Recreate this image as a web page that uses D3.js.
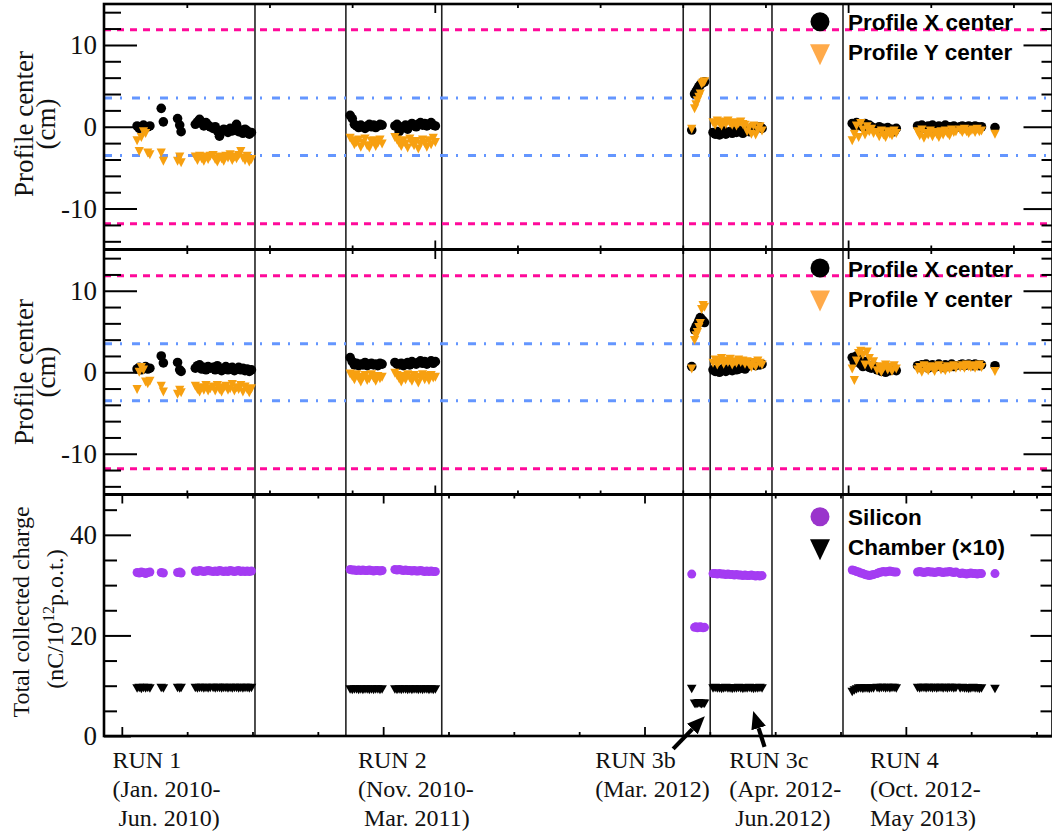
<!DOCTYPE html>
<html>
<head>
<meta charset="utf-8">
<script src="https://cdn.jsdelivr.net/npm/d3@7"></script>
<style>
	body { margin: 0; background: #fff; }
	svg { display: block; }
</style>
</head>
<body>
<svg id="chart"></svg>
<script>
// measurement dates, in days since 1 Jan 2010
const days = [
	// RUN 1
	10, 13, 16, 19, 22, 25, 28, 44, 47, 67, 70, 72, 92, 95, 98, 101, 104, 107, 110, 113,
	117, 120, 123, 126, 129, 132, 135, 138, 141, 144, 147, 150, 153, 156, 159, 162, 165, 168, 171,
	// RUN 2
	310, 313, 316, 319, 322, 325, 328, 331, 334, 337, 340, 343, 346, 349, 352, 355,
	373, 376, 379, 382, 385, 388, 391, 394, 397, 400, 403, 406, 409, 412, 415, 418, 421, 424, 427, 430,
	// RUN 3b
	791, 795, 797, 799, 801, 803, 805, 807, 809,
	// RUN 3c
	821, 824, 827, 830, 833, 836, 839, 842, 845, 848, 851, 854, 857, 860, 863, 866, 869, 872, 875, 878, 881, 884, 887, 890,
	// RUN 4
	1017, 1020, 1023, 1026, 1029, 1032, 1035, 1038, 1041, 1044, 1047,
	1052, 1055, 1058, 1061, 1064, 1067, 1070, 1073, 1076, 1079,
	1109, 1112, 1115, 1118, 1121, 1124, 1127, 1130, 1133, 1136, 1139, 1142, 1145, 1148, 1151, 1154, 1157, 1160, 1163,
	1169, 1172, 1175, 1178, 1181, 1184, 1187, 1190, 1193, 1196, 1199,
	1218,
];

// upper panel: profile centres (cm)
const topX = [
	0.1, -0.2, 0.0, 0.2, -0.1, 0.0, 0.1, 2.25, 0.6, 1.0, 0.2, -0.6, 0.3, 0.6, 0.9, 0.4, 0.1, 0.5, 0.2, 0.0,
	-0.2, 0.0, -0.5, -1.15, -0.6, -0.3, -0.4, -0.7, -0.2, -0.5, -0.3, 0.3, -0.6, -0.4, -0.8, -0.3, -0.5, -0.9, -0.7,
	1.4, 1.0, 0.3, 0.1, -0.1, 0.2, 0.0, -0.2, 0.1, 0.3, 0.0, 0.2, -0.1, 0.1, 0.3, 0.2,
	0.1, 0.3, -0.6, -0.2, 0.0, 0.2, -0.3, 0.1, 0.4, 0.2, 0.0, 0.3, 0.5, 0.2, 0.4, 0.1, 0.3, 0.5, 0.2, 0.1,
	-0.4, 4.0, 4.3, 4.6, 4.9, 5.1, 5.3, 5.4, 5.5,
	-0.7, -0.9, -0.6, -1.0, -0.8, -0.5, -0.9, -0.7, -0.6, -0.8, -0.5, -0.7, -0.4, -0.6, -0.8, -0.5, -0.3, -0.6, -0.2, 0.0, -0.3, -0.1, 0.0, -0.2,
	0.4, 0.1, 0.5, 0.2, 0.3, 0.0, 0.4, 0.1, 0.2, 0.0, -0.2,
	-0.3, 0.0, -0.5, -0.2, -0.4, -0.1, -0.5, -0.3, -0.6, -0.2,
	0.1, -0.2, 0.2, 0.0, -0.3, 0.1, -0.1, 0.2, -0.2, 0.0, 0.1, -0.3, 0.0, 0.2, -0.1, 0.0, -0.2, 0.1, -0.1,
	0.0, 0.1, -0.1, 0.0, 0.1, -0.1, 0.0, 0.1, 0.0, -0.1, 0.0,
	-0.1,
];
const topY = [
	-1.6, -2.9, -1.2, -0.5, -0.7, -3.1, -3.3, -3.1, -4.1, -4.1, -3.6, -4.3, -3.6, -4.0, -3.5, -3.8, -4.1, -3.6, -3.9, -3.5,
	-3.4, -3.9, -4.2, -3.6, -3.8, -4.1, -3.5, -3.7, -3.3, -4.0, -3.6, -3.8, -3.4, -2.9, -3.7, -4.0, -3.5, -4.2, -3.9,
	-1.3, -1.6, -2.1, -1.8, -1.5, -2.4, -1.9, -1.4, -2.2, -2.5, -1.7, -1.6, -2.3, -1.9, -1.5, -2.0,
	-1.2, -1.5, -1.9, -2.3, -1.6, -2.0, -2.5, -1.4, -1.8, -2.2, -1.7, -2.6, -2.0, -1.5, -1.9, -2.4, -1.6, -2.1, -1.3, -1.8,
	-0.2, 2.3, 2.8, 3.3, 3.7, 4.1, 5.3, 5.5, 5.6,
	0.6, 0.3, 0.8, 0.5, 0.2, 0.7, 0.4, 0.8, 0.5, 0.3, 0.6, 0.2, 0.5, 0.7, 0.4, 0.3, -0.5, 0.0, -0.8, 0.2, -0.9, -0.3, 0.1, -0.4,
	-1.6, -0.8, 0.2, -1.2, 0.5, -0.3, -0.9, 0.1, -0.5, -0.2, -0.7,
	-0.6, -1.1, -0.4, -0.9, -1.2, -0.5, -0.8, -1.0, -0.4, -0.7,
	-0.5, -1.0, -0.3, -1.3, -0.7, -0.9, -0.4, -1.1, -0.6, -0.8, -1.2, -0.5, -0.9, -0.4, -0.7, -1.0, -0.3, -0.6, -0.5,
	-0.3, -0.6, -0.2, -0.5, -0.7, -0.4, -0.3, -0.6, -0.2, -0.5, -0.4,
	-0.8,
];

// middle panel: profile centres (cm)
const midX = [
	0.4, 0.6, 0.3, 0.5, 0.7, 0.4, 0.5, 2.0, 1.15, 1.2, 0.3, 0.1, 0.5, 0.8, 0.9, 0.4, 0.6, 0.3, 0.7, 0.5,
	0.6, 0.3, 0.8, 0.5, 0.2, 0.4, 0.7, 0.3, 0.5, 0.6, 0.2, 0.4, 0.6, 0.3, 0.5, 0.2, 0.4, 0.1, 0.3,
	1.8, 1.3, 0.9, 1.1, 0.8, 1.0, 0.9, 1.2, 0.8, 1.0, 1.1, 0.9, 1.0, 0.8, 1.1, 1.0,
	1.2, 1.0, 0.9, 1.1, 0.8, 1.0, 1.2, 0.9, 1.3, 1.1, 1.0, 1.2, 1.4, 1.1, 1.3, 1.0, 1.2, 1.4, 1.1, 1.3,
	0.7, 5.2, 5.6, 5.9, 6.3, 6.7, 6.5, 6.3, 6.1,
	0.3, 0.1, 0.4, 0.0, 0.2, 0.5, 0.1, 0.3, 0.4, 0.2, 0.5, 0.3, 0.4, 0.6, 0.5, 0.4, 0.7, 0.9, 1.1, 1.0, 0.8, 1.2, 0.9, 1.0,
	1.8, 1.2, 2.0, 1.5, 1.0, 0.7, 1.3, 0.9, 0.6, 0.5, 0.8,
	0.3, 0.5, 0.1, 0.4, 0.0, 0.6, 0.2, 0.3, 0.5, 0.2,
	0.8, 0.6, 0.9, 0.7, 1.0, 0.5, 0.8, 0.9, 0.6, 0.7, 1.0, 0.8, 0.6, 0.9, 0.7, 0.8, 1.0, 0.7, 0.8,
	0.9, 1.0, 0.8, 0.9, 1.0, 0.9, 0.8, 1.0, 0.9, 0.8, 0.9,
	0.8,
];
const midY = [
	-2.0, 0.1, 0.7, 0.4, -1.1, -1.3, -1.0, -1.6, -2.3, -2.6, -2.1, -2.4, -1.6, -2.0, -2.3, -1.8, -2.1, -1.5, -2.2, -1.9,
	-1.7, -2.2, -1.5, -2.0, -2.3, -1.8, -1.6, -2.1, -1.9, -1.4, -2.2, -1.8, -2.0, -1.5, -2.3, -1.7, -2.0, -2.4, -1.9,
	-0.1, -0.4, -0.8, -0.2, -0.6, -1.1, -0.5, -0.3, -0.9, -0.7, -0.2, -0.6, -1.0, -0.4, -0.7, -0.5,
	0.0, -0.3, -0.7, -1.1, -0.4, -0.8, -0.2, -0.6, -1.0, -0.3, -0.7, -1.2, -0.5, -0.2, -0.8, -0.4, -0.9, -0.3, -0.6, -0.5,
	0.5, 4.0, 4.6, 5.0, 5.6, 6.1, 7.8, 8.3, 8.1,
	1.2, 1.6, 1.0, 1.4, 1.8, 1.1, 1.5, 1.3, 1.7, 1.0, 1.4, 1.2, 1.6, 1.3, 1.5, 1.1, 1.4, 1.0, 0.7, 1.3, 0.8, 1.5, 1.2, 1.0,
	0.5, -0.9, 1.5, 2.4, 2.7, 2.2, 1.0, 2.6, 1.8, 0.9, 1.4,
	0.3, 0.8, 0.1, 0.6, 1.0, 0.4, 0.7, 0.2, 0.9, 0.5,
	0.4, 0.7, 0.1, 0.9, 0.5, 0.3, 0.8, 0.6, 0.2, 0.7, 0.9, 0.4, 0.6, 0.3, 0.8, 0.5, 0.7, 0.9, 0.6,
	0.7, 0.9, 0.6, 1.0, 0.8, 0.7, 0.9, 0.6, 0.8, 1.0, 0.7,
	0.2,
];

// lower panel: total collected charge (nC / 10^12 p.o.t.)
const silicon = [
	32.5, 32.4, 32.6, 32.5, 32.3, 32.5, 32.6, 32.5, 32.4, 32.5, 32.6, 32.4, 32.8, 32.7, 32.9, 32.8, 32.7, 32.8, 32.9, 32.8,
	32.7, 32.8, 32.7, 32.9, 32.8, 32.7, 32.8, 32.7, 32.9, 32.8, 32.7, 32.8, 32.9, 32.7, 32.8, 32.7, 32.8, 32.7, 32.8,
	33.1, 33.0, 33.0, 32.9, 33.0, 32.9, 33.0, 32.9, 32.9, 33.0, 32.9, 32.8, 32.9, 32.9, 32.8, 32.9,
	33.1, 33.0, 33.1, 33.0, 32.9, 33.0, 32.9, 32.9, 32.8, 32.9, 32.8, 32.8, 32.9, 32.8, 32.7, 32.8, 32.7, 32.8, 32.7, 32.7,
	32.2, 21.6, 21.7, 21.5, 21.6, 21.7, 21.6, 21.5, 21.6,
	32.3, 32.3, 32.2, 32.3, 32.2, 32.2, 32.1, 32.2, 32.1, 32.1, 32.0, 32.1, 32.0, 32.0, 31.9, 32.0, 31.9, 31.9, 32.0, 31.9, 31.8, 31.9, 31.8, 31.9,
	33.0, 32.9, 32.7, 32.6, 32.4, 32.3, 32.1, 32.0, 31.9, 32.0, 32.1,
	32.3, 32.5, 32.6, 32.7, 32.6, 32.7, 32.8, 32.7, 32.6, 32.6,
	32.6, 32.7, 32.6, 32.5, 32.6, 32.7, 32.6, 32.6, 32.5, 32.6, 32.7, 32.6, 32.5, 32.6, 32.6, 32.7, 32.6, 32.5, 32.6,
	32.3, 32.4, 32.3, 32.2, 32.3, 32.4, 32.3, 32.3, 32.2, 32.3, 32.3,
	32.3,
];
const chamber = [ // x10
	9.6, 9.7, 9.5, 9.7, 9.6, 9.7, 9.6, 9.7, 9.6, 9.7, 9.6, 9.7, 9.7, 9.6, 9.7, 9.7, 9.6, 9.7, 9.6, 9.7,
	9.7, 9.6, 9.7, 9.7, 9.6, 9.7, 9.7, 9.6, 9.7, 9.6, 9.7, 9.7, 9.6, 9.7, 9.6, 9.7, 9.7, 9.6, 9.7,
	9.4, 9.3, 9.4, 9.4, 9.3, 9.4, 9.3, 9.4, 9.4, 9.3, 9.4, 9.3, 9.4, 9.4, 9.3, 9.4,
	9.4, 9.3, 9.4, 9.3, 9.4, 9.4, 9.3, 9.4, 9.3, 9.4, 9.4, 9.3, 9.4, 9.3, 9.4, 9.4, 9.3, 9.4, 9.3, 9.4,
	9.5, 6.6, 6.5, 6.6, 6.7, 6.6, 6.5, 6.6, 6.6,
	9.6, 9.7, 9.6, 9.6, 9.5, 9.6, 9.7, 9.6, 9.6, 9.5, 9.6, 9.6, 9.7, 9.6, 9.5, 9.6, 9.6, 9.7, 9.6, 9.5, 9.6, 9.6, 9.7, 9.6,
	8.9, 9.2, 9.4, 9.6, 9.6, 9.5, 9.6, 9.6, 9.5, 9.6, 9.6,
	9.7, 9.6, 9.7, 9.7, 9.6, 9.7, 9.6, 9.7, 9.7, 9.6,
	9.7, 9.6, 9.7, 9.7, 9.6, 9.7, 9.7, 9.6, 9.7, 9.6, 9.7, 9.7, 9.6, 9.7, 9.6, 9.7, 9.7, 9.6, 9.7,
	9.6, 9.7, 9.6, 9.6, 9.5, 9.6, 9.7, 9.6, 9.6, 9.5, 9.6,
	9.5,
];

// run boundaries (days)
const runEdges = [176, 304, 439, 779, 817, 904, 1004];
// tolerance lines (cm)
const outerLimit = 11.85;
const innerLimit = 3.5;

const runLabels = [
	{ day: -24.6, lines: ['RUN 1', '(Jan. 2010-', ' Jun. 2010)'] },
	{ day: 321, lines: ['RUN 2', '(Nov. 2010-', ' Mar. 2011)'] },
	{ day: 655, lines: ['RUN 3b', '(Mar. 2012)'] },
	{ day: 843.7, lines: ['RUN 3c', '(Apr. 2012-', ' Jun.2012)'] },
	{ day: 1042, lines: ['RUN 4', '(Oct. 2012-', 'May 2013)'] },
];
// arrows pointing at RUN 3b / 3c in the charge panel
const arrows = [
	{ day: 808.5, value: 3.8, dx: -31, dy: 32 },
	{ day: 878, value: 4.8, dx: 11, dy: 35 },
];

if ([topX, topY, midX, midY, silicon, chamber].some(a => a.length !== days.length)) {
	console.error('series length mismatch');
}

const colorMagenta = '#ff0a9a';
const colorBlue = '#6496ff';
const colorOrange = '#f7a010';
const colorOrangeKey = '#ffaa4a';
const colorPurple = '#a43cf2';
const colorPurpleKey = '#9a34cc';
const serif = '"Liberation Serif", "Times New Roman", serif';
const sans = '"Liberation Sans", Arial, sans-serif';

const width = 1052;
const height = 836;
const left = 104;
const right = 1052.5;

const svg = d3.select('#chart')
	.attr('width', width)
	.attr('height', height);

svg.append('rect')
	.attr('width', width)
	.attr('height', height)
	.attr('fill', '#fff');

const x = d3.scaleLinear()
	.domain([-36.6, 1299])
	.range([left, right]);

const yTop = d3.scaleLinear().domain([-15, 15]).range([249.5, 4]);
const yMid = d3.scaleLinear().domain([-15, 15]).range([494.5, 250]);
const yBot = d3.scaleLinear().domain([0, 48]).range([736, 494.6]);

const tri = (w, h) => `M${-w},${-h * 0.4}L${w},${-h * 0.4}L0,${h * 0.6}Z`;

// x ticks (time axis)
const xTicksA = d3.range(0, 11).map(k => ({ d: 80.7 + 116.4 * k, major: k % 5 === 3 }));
const xTicksB = d3.range(0, 15).map(k => ({ d: -10.8 + 92 * k, major: k % 4 === 0 }));

function xTicks(ticks, yPos, dir) {
	const g = svg.append('g');
	g.selectAll('line')
		.data(ticks)
		.enter()
			.append('line')
			.attr('x1', t => x(t.d))
			.attr('x2', t => x(t.d))
			.attr('y1', yPos)
			.attr('y2', t => yPos + dir * (t.major ? 9 : 4))
			.attr('stroke', '#000')
			.attr('stroke-width', 1.8);
}

function yAxes(y, major, minor, majLen, minLen, rMajLen, rMinLen) {
	const fmt = d => String(d);
	svg.append('g')
		.attr('transform', `translate(${left},0)`)
		.call(d3.axisLeft(y).tickValues(minor).tickSizeInner(-minLen).tickSizeOuter(0).tickFormat(''))
		.call(g => g.select('.domain').remove());
	svg.append('g')
		.attr('transform', `translate(${left},0)`)
		.call(d3.axisLeft(y).tickValues(major).tickSizeInner(-majLen).tickSizeOuter(0).tickPadding(7).tickFormat(fmt))
		.call(g => g.select('.domain').remove())
		.call(g => g.selectAll('text')
			.attr('fill', '#111')
			.style('font-family', serif)
			.style('font-size', '27px'));
	svg.append('g')
		.attr('transform', `translate(${right},0)`)
		.call(d3.axisRight(y).tickValues(minor).tickSizeInner(-rMinLen).tickSizeOuter(0).tickFormat(''))
		.call(g => g.select('.domain').remove());
	svg.append('g')
		.attr('transform', `translate(${right},0)`)
		.call(d3.axisRight(y).tickValues(major).tickSizeInner(-rMajLen).tickSizeOuter(0).tickFormat(''))
		.call(g => g.select('.domain').remove());
	svg.selectAll('.tick line').attr('stroke-width', 2).attr('stroke', '#000');
}

function hline(y, value, color, dash) {
	svg.append('line')
		.attr('x1', left)
		.attr('x2', right)
		.attr('y1', y(value))
		.attr('y2', y(value))
		.attr('stroke', color)
		.attr('stroke-width', 3)
		.attr('stroke-dasharray', dash);
}

function legend(keyY, labels, fills, shapes) {
	const key = svg.append('g').attr('transform', `translate(820,${keyY})`);
	key.append('circle').attr('r', 9.5).attr('fill', fills[0]);
	key.append('path').attr('d', tri(10, 21)).attr('transform', 'translate(0,31)').attr('fill', fills[1]);
	key.selectAll('text')
		.data(labels)
		.enter()
			.append('text')
			.text(t => t)
			.attr('x', 28)
			.attr('y', (t, i) => 8.5 + i * 30)
			.style('font-family', sans)
			.style('font-weight', 'bold')
			.style('font-size', '22.5px')
			.attr('fill', '#000');
}

function profilePanel(y, xs, ys, keyY) {
	[outerLimit, -outerLimit].forEach(v => hline(y, v, colorMagenta, '7,6'));
	[innerLimit, -innerLimit].forEach(v => hline(y, v, colorBlue, '8,8,2,10'));

	const pts = days.map((d, i) => ({ d, a: xs[i], b: ys[i] }));
	svg.append('g')
		.selectAll('circle')
		.data(pts)
		.enter()
			.append('circle')
			.attr('cx', p => x(p.d))
			.attr('cy', p => y(p.a))
			.attr('r', 4.8)
			.attr('fill', '#000');
	svg.append('g')
		.selectAll('path')
		.data(pts)
		.enter()
			.append('path')
			.attr('d', tri(4.6, 9))
			.attr('transform', p => `translate(${x(p.d)},${y(p.b)})`)
			.attr('fill', colorOrange);

	legend(keyY, ['Profile X center', 'Profile Y center'], ['#000', colorOrangeKey]);
}

// run separators
svg.append('g')
	.selectAll('line')
	.data(runEdges)
	.enter()
		.append('line')
		.attr('x1', d => x(d))
		.attr('x2', d => x(d))
		.attr('y1', 4)
		.attr('y2', 736)
		.attr('stroke', '#222')
		.attr('stroke-width', 1.6);

profilePanel(yTop, topX, topY, 21.7);
profilePanel(yMid, midX, midY, 268);

// charge panel
const charge = days.map((d, i) => ({ d, s: silicon[i], c: chamber[i] }));
svg.append('g')
	.selectAll('circle')
	.data(charge)
	.enter()
		.append('circle')
		.attr('cx', p => x(p.d))
		.attr('cy', p => yBot(p.s))
		.attr('r', 4.5)
		.attr('fill', colorPurple);
svg.append('g')
	.selectAll('path')
	.data(charge)
	.enter()
		.append('path')
		.attr('d', tri(4.8, 8.5))
		.attr('transform', p => `translate(${x(p.d)},${yBot(p.c)})`)
		.attr('fill', '#000');

legend(516.7, ['Silicon', 'Chamber (×10)'], [colorPurpleKey, '#000']);

// axes
yAxes(yTop, [-10, 0, 10], [-14, -12, -8, -6, -4, -2, 2, 4, 6, 8, 12, 14], 33, 17, 29, 11);
yAxes(yMid, [-10, 0, 10], [-14, -12, -8, -6, -4, -2, 2, 4, 6, 8, 12, 14], 33, 17, 29, 11);
yAxes(yBot, [0, 20, 40], [5, 10, 15, 25, 30, 35, 45], 27, 13, 22, 12);

xTicks(xTicksA, 4, 1);
xTicks(xTicksA, 249.5, -1);
xTicks(xTicksA, 250, 1);
xTicks(xTicksA, 494.5, -1);
xTicks(xTicksB, 494.5, 1);
xTicks(xTicksB, 736, -1);

// frame
svg.append('rect')
	.attr('x', left)
	.attr('y', 4)
	.attr('width', right - left)
	.attr('height', 732)
	.attr('fill', 'none')
	.attr('stroke', '#000')
	.attr('stroke-width', 2.6);
[249.5, 494.5].forEach(yy => {
	svg.append('line')
		.attr('x1', left).attr('x2', right)
		.attr('y1', yy).attr('y2', yy)
		.attr('stroke', '#000')
		.attr('stroke-width', 2.8);
});

// axis titles
function yTitle(lines) {
	lines.forEach(l => {
		const t = svg.append('text')
			.attr('transform', `translate(${l.x},${l.y}) rotate(-90)`)
			.attr('text-anchor', 'middle')
			.style('font-family', serif)
			.style('font-size', l.size + 'px')
			.attr('fill', '#111');
		if (l.sup) {
			t.append('tspan').text(l.text[0]);
			t.append('tspan').text(l.sup).attr('dy', -9).style('font-size', '16px');
			t.append('tspan').text(l.text[1]).attr('dy', 9);
		} else {
			t.text(l.text);
		}
	});
}
yTitle([
	{ text: 'Profile center', x: 33, y: 124, size: 27 },
	{ text: '(cm)', x: 55, y: 124, size: 27 },
]);
yTitle([
	{ text: 'Profile center', x: 33, y: 372, size: 27 },
	{ text: '(cm)', x: 55, y: 372, size: 27 },
]);
yTitle([
	{ text: 'Total collected charge', x: 28.5, y: 612, size: 24 },
	{ text: ['(nC/10', 'p.o.t.)'], sup: '12', x: 63, y: 619, size: 24 },
]);

// run labels under the time axis
runLabels.forEach(r => {
	const t = svg.append('text')
		.style('font-family', serif)
		.style('font-size', '24px')
		.style('white-space', 'pre')
		.attr('fill', '#111');
	r.lines.forEach((line, i) => {
		t.append('tspan')
			.attr('x', x(r.day))
			.attr('y', 768 + i * 29.2)
			.text(line);
	});
});

// arrows
svg.append('defs')
	.append('marker')
	.attr('id', 'head')
	.attr('viewBox', '0 -5 10 10')
	.attr('refX', 0)
	.attr('refY', 0)
	.attr('markerUnits', 'userSpaceOnUse')
	.attr('markerWidth', 18)
	.attr('markerHeight', 18)
	.attr('orient', 'auto')
	.append('path')
		.attr('d', 'M0,-4.2L10,0L0,4.2Z')
		.attr('fill', '#000');

arrows.forEach(a => {
	const hx = x(a.day);
	const hy = yBot(a.value);
	const tx = hx + a.dx;
	const ty = hy + a.dy;
	const len = Math.hypot(hx - tx, hy - ty);
	const ux = (hx - tx) / len;
	const uy = (hy - ty) / len;
	svg.append('line')
		.attr('x1', tx)
		.attr('y1', ty)
		.attr('x2', hx - ux * 17)
		.attr('y2', hy - uy * 17)
		.attr('stroke', '#000')
		.attr('stroke-width', 4.2)
		.attr('marker-end', 'url(#head)');
});
</script>
</body>
</html>
